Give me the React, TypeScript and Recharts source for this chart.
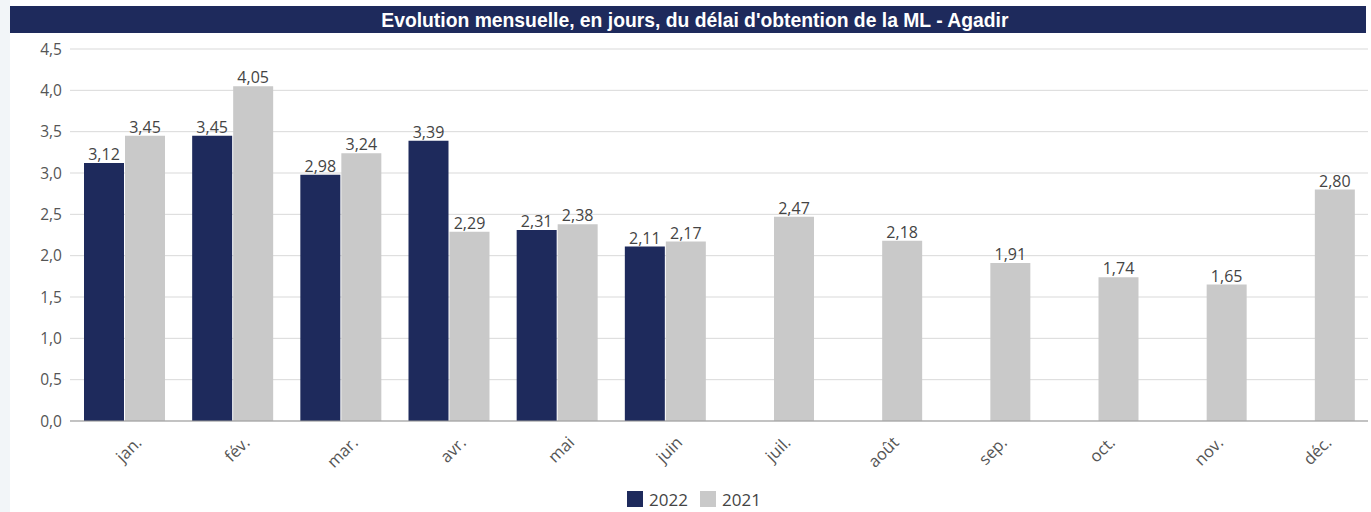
import React from "react";
import { BarChart, Bar, XAxis, YAxis, CartesianGrid, Legend, LabelList } from "recharts";

const months = ["jan.", "fév.", "mar.", "avr.", "mai", "juin", "juil.", "août", "sep.", "oct.", "nov.", "déc."];
const values2022: (number | null)[] = [3.12, 3.45, 2.98, 3.39, 2.31, 2.11, null, null, null, null, null, null];
const values2021 = [3.45, 4.05, 3.24, 2.29, 2.38, 2.17, 2.47, 2.18, 1.91, 1.74, 1.65, 2.8];
const yTicks = [0, 0.5, 1, 1.5, 2, 2.5, 3, 3.5, 4, 4.5];

const NAVY = "#1e2a5c";
const GREY = "#c9c9c9";
const FONT = "'Open Sans', 'Liberation Sans', sans-serif";

const data = months.map((m, i) => ({ mois: m, y2022: values2022[i], y2021: values2021[i] }));

const fr = (v: any, d: number) => (v == null ? "" : Number(v).toFixed(d).replace(".", ","));

function MonthTick({ x, y, payload }: any) {
  return (
    <text
      x={x + 14}
      y={y + 10}
      transform={`rotate(-45, ${x + 14}, ${y + 10})`}
      textAnchor="end"
      dominantBaseline="central"
      fontSize={16.5}
      fill="#555"
      fontFamily={FONT}
    >
      {payload.value}
    </text>
  );
}

function LegendBox() {
  const item = (color: string, label: string) => (
    <span style={{ display: "inline-flex", alignItems: "center", margin: "0 6px" }}>
      <span style={{ width: 16, height: 16, background: color, display: "inline-block", marginRight: 6 }} />
      <span style={{ fontSize: 17, color: "#444", fontFamily: FONT }}>{label}</span>
    </span>
  );
  return (
    <div style={{ height: 22, display: "flex", justifyContent: "center", alignItems: "center" }}>
      {item(NAVY, "2022")}
      {item(GREY, "2021")}
    </div>
  );
}

export default function App() {
  return (
    <div style={{ position: "absolute", top: 0, left: 0, width: 1371, height: 512, background: "#f2f5f8" }}>
      <div style={{ position: "absolute", top: 0, left: 10, width: 1361, height: 512, background: "#fff" }} />
      <div
        style={{
          position: "absolute",
          top: 6,
          left: 10,
          width: 1356,
          height: 27,
          background: NAVY,
          color: "#fff",
          fontFamily: "'Liberation Sans Narrow', 'Liberation Sans', sans-serif",
          fontWeight: 700,
          fontSize: 21,
          lineHeight: "27px",
          textAlign: "center",
          overflow: "hidden",
        }}
      >
        <span style={{ display: "inline-block", transform: "scaleX(0.92)", marginLeft: 14 }}>
          Evolution mensuelle, en jours, du délai d'obtention de la ML - Agadir
        </span>
      </div>
      <div style={{ position: "absolute", top: 0, left: 0 }}>
        <BarChart
          width={1371}
          height={512}
          data={data}
          margin={{ top: 49, right: 3, left: 20, bottom: 2 }}
          barCategoryGap={14}
          barGap={1}
        >
          <CartesianGrid vertical={false} stroke="#d9d9d9" />
          <XAxis
            dataKey="mois"
            height={67}
            interval={0}
            tickLine={false}
            axisLine={{ stroke: "#999" }}
            tick={<MonthTick />}
          />
          <YAxis
            width={50}
            domain={[0, 4.5]}
            ticks={yTicks}
            tickFormatter={(v) => fr(v, 1)}
            axisLine={false}
            tickLine={false}
            tick={{ fontSize: 15.5, fill: "#555", fontFamily: FONT }}
          />
          <Legend verticalAlign="bottom" content={<LegendBox />} />
          <Bar dataKey="y2022" fill={NAVY} isAnimationActive={false}>
            <LabelList dataKey="y2022" position="top" offset={3} formatter={(v: any) => fr(v, 2)} style={{ fontSize: 16, fill: "#444", fontFamily: FONT }} />
          </Bar>
          <Bar dataKey="y2021" fill={GREY} isAnimationActive={false}>
            <LabelList dataKey="y2021" position="top" offset={3} formatter={(v: any) => fr(v, 2)} style={{ fontSize: 16, fill: "#444", fontFamily: FONT }} />
          </Bar>
        </BarChart>
      </div>
    </div>
  );
}
